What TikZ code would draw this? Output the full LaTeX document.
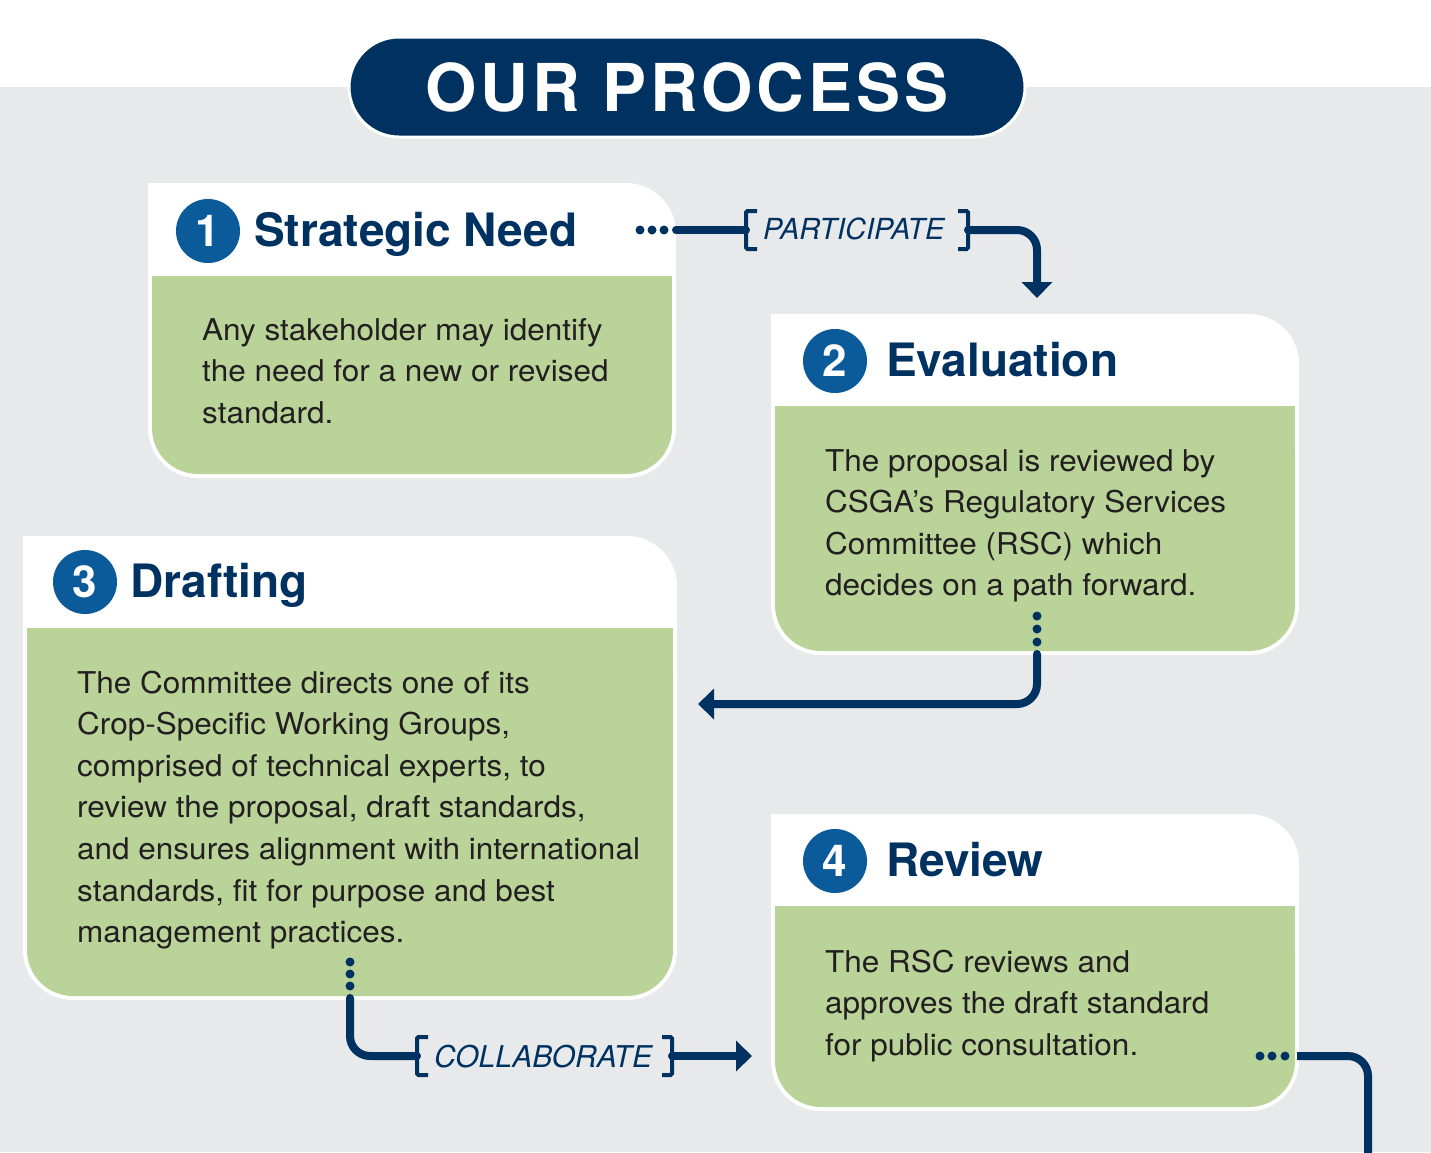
\documentclass[tikz,border=0pt]{standalone}
\usepackage{fontspec}
\setmainfont{TeX Gyre Heros}
\newfontfamily\titlefont[LetterSpace=6]{TeX Gyre Heros}
\newfontfamily\bodyfont[FakeStretch=1.05]{TeX Gyre Heros}
\usetikzlibrary{arrows.meta}
\definecolor{navy}{HTML}{003261}
\definecolor{circblue}{HTML}{0B5A9A}
\definecolor{boxgreen}{HTML}{B9D399}
\definecolor{bggray}{HTML}{E8E9EB}
\definecolor{bodytxt}{HTML}{231F20}
\newcommand\procbox[5]{%
  \fill[white, rounded corners=50pt] (#1,#2) rectangle (#3,#4);
  \fill[white] (#1,#2) rectangle ++(60,60);
  \fill[boxgreen, rounded corners=46pt] (#1+4,#5) rectangle (#3-4,#4-4);
  \fill[boxgreen] (#1+4,#5) rectangle (#3-4,#5+60);
}
\tikzset{
  numcirc/.style={circle, fill=circblue, minimum size=64pt, inner sep=0pt, text=white, font=\fontsize{44}{44}\selectfont\bfseries},
  headtxt/.style={anchor=base west, inner sep=0pt, text=navy, font=\fontsize{46}{46}\selectfont\bfseries},
  bodynode/.style={anchor=base west, inner sep=0pt, text=bodytxt},
  labtxt/.style={anchor=base west, inner sep=0pt, text=navy, font=\fontsize{30}{30}\selectfont\itshape},
  conn/.style={draw=navy, line width=8pt, line cap=round, rounded corners=20pt},
  arr/.style={-{Triangle[width=30pt,length=16pt]}},
  brk/.style={draw=navy, line width=4pt, rounded corners=1.5pt},
  dot/.style={fill=navy}
}
\newcommand\bodyfmt[1]{\parbox[t]{640pt}{\raggedright\bodyfont\fontsize{30}{41.6}\selectfont #1}}
\begin{document}
\begin{tikzpicture}[x=1pt,y=-1pt]
\useasboundingbox (0,0) rectangle (1431,1152);
\fill[white] (0,0) rectangle (1431,87);
\fill[bggray] (0,87) rectangle (1431,1152);

% title
\node[fill=navy, draw=white, line width=3pt, rounded corners=50pt, minimum width=676pt, minimum height=100pt, inner sep=0pt, text=white, font=\fontsize{66}{66}\selectfont\titlefont\bfseries] (title) at (687,87) {OUR PROCESS};

% boxes
\procbox{148}{183}{676}{478}{276}
\procbox{771}{314}{1299}{655}{406}
\procbox{23}{536}{677}{1000}{628}
\procbox{771}{814}{1299}{1111}{906}

% box 1
\node[numcirc] (n1) at (208,231) {1};
\node[headtxt] (h1) at (254,246) {Strategic Need};
\node[bodynode] (b1) at (202,340) {\bodyfmt{Any stakeholder may identify\\the need for a new or revised\\standard.}};

% box 2
\node[numcirc] (n2) at (835,361) {2};
\node[headtxt] (h2) at (886,376) {Evaluation};
\node[bodynode] (b2) at (825,471) {\bodyfmt{The proposal is reviewed by\\CSGA’s Regulatory Services\\Committee (RSC) which\\decides on a path forward.}};

% box 3
\node[numcirc] (n3) at (85,582) {3};
\node[headtxt] (h3) at (130,597) {Drafting};
\node[bodynode] (b3) at (77,693) {\bodyfmt{The Committee directs one of its\\Crop-Specific Working Groups,\\comprised of technical experts, to\\review the proposal, draft standards,\\and ensures alignment with international\\standards, fit for purpose and best\\management practices.}};

% box 4
\node[numcirc] (n4) at (835,861) {4};
\node[headtxt] (h4) at (886,876) {Review};
\node[bodynode] (b4) at (825,972) {\bodyfmt{The RSC reviews and\\approves the draft standard\\for public consultation.}};

% connector 1: PARTICIPATE
\fill[dot] (640,230) circle (4.5) (652,230) circle (4.5) (664,230) circle (4.5);
\coordinate (c1s) at (676,230);
\coordinate (c1bl) at (746,230);
\coordinate (c1br) at (968,230);
\coordinate (c1e) at (1037,298);
\node[labtxt, font=\fontsize{29}{29}\selectfont\itshape] (lab1) at (763,239) {PARTICIPATE};
\draw[brk] (757,211) -- (746,211) -- (746,249) -- (757,249);
\draw[brk] (958,211) -- (968,211) -- (968,249) -- (958,249);
\draw[conn] (c1s) -- (c1bl);
\draw[conn, arr] (c1br) -| (c1e);

% connector 2
\fill[dot] (1037,616) circle (4.5) (1037,629) circle (4.5) (1037,642) circle (4.5);
\coordinate (c2s) at (1037,654);
\coordinate (c2e) at (698,704);
\draw[conn, arr] (c2s) |- (c2e);

% connector 3: COLLABORATE
\fill[dot] (350,962) circle (4.5) (350,974) circle (4.5) (350,986) circle (4.5);
\coordinate (c3s) at (350,998);
\coordinate (c3bl) at (417,1056);
\coordinate (c3br) at (672,1056);
\coordinate (c3e) at (752,1056);
\node[labtxt] (lab2) at (434,1067) {COLLABORATE};
\draw[brk] (428,1037) -- (417,1037) -- (417,1075) -- (428,1075);
\draw[brk] (662,1037) -- (672,1037) -- (672,1075) -- (662,1075);
\draw[conn] (c3s) |- (c3bl);
\draw[conn, arr] (c3br) -- (c3e);

% connector 4
\fill[dot] (1260,1056) circle (4.5) (1272,1056) circle (4.5) (1285,1056) circle (4.5);
\coordinate (c4s) at (1297,1056);
\coordinate (c4e) at (1368,1160);
\draw[conn, line cap=butt] (c4s) -| (c4e);
\end{tikzpicture}
\end{document}
